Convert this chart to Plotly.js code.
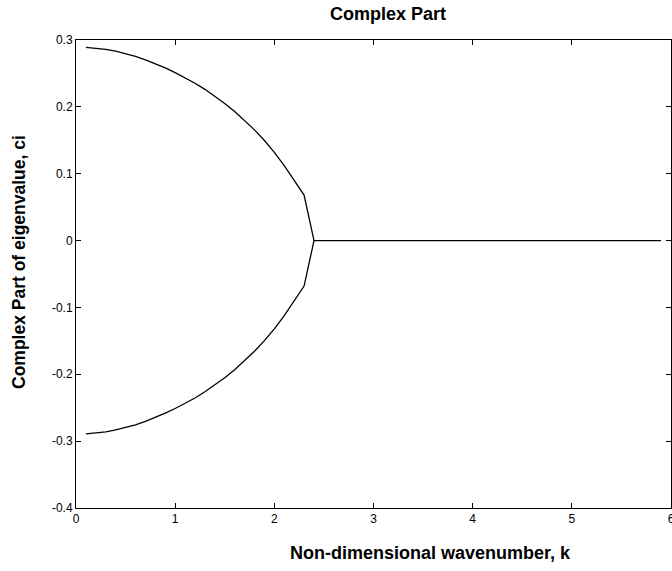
<!DOCTYPE html>
<html>
<head>
<meta charset="utf-8">
<script src="https://cdn.plot.ly/plotly-3.0.1.min.js"></script>
<style>
  html, body { margin: 0; padding: 0; background: #fff; }
  #plot { width: 672px; height: 571px; }
</style>
</head>
<body>
<div id="plot"></div>
<script>
// Wavenumbers where the two complex-conjugate modes exist
var k = [0.1, 0.2, 0.3, 0.4, 0.5, 0.6, 0.7, 0.8, 0.9, 1.0, 1.1, 1.2,
         1.3, 1.4, 1.5, 1.6, 1.7, 1.8, 1.9, 2.0, 2.1, 2.2, 2.3, 2.4];
// Imaginary part of the growing mode
var ciUpper = [0.2890, 0.2879, 0.2860, 0.2833, 0.2798, 0.2755, 0.2704, 0.2646,
               0.2582, 0.2512, 0.2437, 0.2354, 0.2262, 0.2161, 0.2051, 0.1931,
               0.1800, 0.1656, 0.1497, 0.1320, 0.1121, 0.0906, 0.0681, 0];
// Imaginary part of the decaying mode
var ciLower = [-0.2890, -0.2879, -0.2860, -0.2833, -0.2798, -0.2755, -0.2704, -0.2646,
               -0.2582, -0.2512, -0.2437, -0.2354, -0.2262, -0.2161, -0.2051, -0.1931,
               -0.1800, -0.1656, -0.1497, -0.1320, -0.1121, -0.0906, -0.0681, 0];
// Neutral (real eigenvalue) range beyond the cutoff
var kNeutral = [2.4, 5.9];
var ciNeutral = [0, 0];

var xTicks = [0, 1, 2, 3, 4, 5, 6];
var xTickText = ['0', '1', '2', '3', '4', '5', '6'];
var yTicks = [-0.4, -0.3, -0.2, -0.1, 0, 0.1, 0.2, 0.3];
var yTickText = ['-0.4', '-0.3', '-0.2', '-0.1', '0', '0.1', '0.2', '0.3'];

var lineStyle = { color: '#000', width: 1.3 };
var traces = [
  { x: k, y: ciUpper, mode: 'lines', line: lineStyle, hoverinfo: 'x+y' },
  { x: k, y: ciLower, mode: 'lines', line: lineStyle, hoverinfo: 'x+y' },
  { x: kNeutral, y: ciNeutral, mode: 'lines', line: lineStyle, hoverinfo: 'x+y' }
];

var family = 'Liberation Sans, Arial, Helvetica, sans-serif';
var font = { family: family, size: 12, color: '#000' };
var labelFont = { family: family, size: 18, color: '#000' };
var axisCommon = {
  showgrid: false, zeroline: false,
  showline: true, linecolor: '#000', linewidth: 1,
  mirror: 'allticks', ticks: 'inside', ticklen: 5, tickwidth: 1, tickcolor: '#000',
  tickfont: font, fixedrange: true, ticklabeloverflow: 'allow'
};

var layout = {
  width: 672, height: 571,
  margin: { l: 76, r: 1, t: 40, b: 63 },
  paper_bgcolor: '#fff', plot_bgcolor: '#fff',
  showlegend: false,
  font: font,
  xaxis: Object.assign({}, axisCommon, {
    range: [0, 6], tickmode: 'array', tickvals: xTicks, ticktext: xTickText
  }),
  yaxis: Object.assign({}, axisCommon, {
    range: [-0.4, 0.3], tickmode: 'array', tickvals: yTicks, ticktext: yTickText
  }),
  annotations: [
    { text: '<b>Complex Part</b>', xref: 'paper', yref: 'paper',
      x: (388 - 76) / 595, y: 1, yshift: 26, showarrow: false,
      xanchor: 'center', yanchor: 'middle', font: labelFont },
    { text: '<b>Non-dimensional wavenumber, k</b>', xref: 'paper', yref: 'paper',
      x: (430 - 76) / 595, y: 0, yshift: -45, showarrow: false,
      xanchor: 'center', yanchor: 'middle', font: labelFont },
    { text: '<b>Complex Part of eigenvalue, ci</b>', xref: 'paper', yref: 'paper',
      x: 0, xshift: -57, y: (508 - 262) / 468, showarrow: false,
      xanchor: 'center', yanchor: 'middle', textangle: -90,
      font: { family: family, size: 17.5, color: '#000' } }
  ]
};

Plotly.newPlot('plot', traces, layout, { displayModeBar: false, staticPlot: true });
</script>
</body>
</html>
